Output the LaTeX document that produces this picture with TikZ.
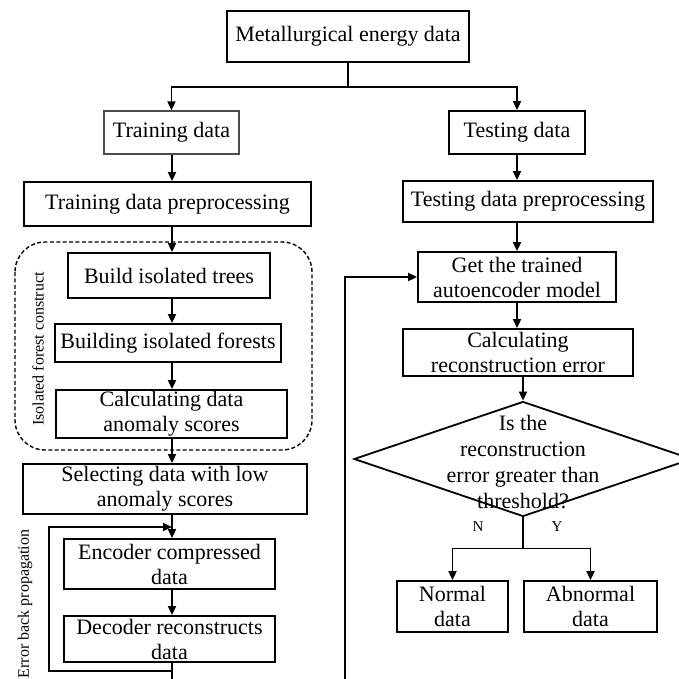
\documentclass[tikz,border=0pt]{standalone}
\usepackage{fontspec}
\setmainfont{Liberation Serif}
\usetikzlibrary{arrows.meta,shapes.geometric}
\tikzset{
  box/.style={draw, line width=0.9pt, align=center, inner sep=0pt,
    font=\fontsize{11}{12.5}\selectfont},
  arr/.style={line width=0.9pt, -{Triangle[length=4.5pt,width=4pt]}},
  ln/.style={line width=0.9pt},
  side/.style={rotate=90, font=\fontsize{8}{9}\selectfont},
}
\begin{document}
\begin{tikzpicture}[x=0.5pt,y=-0.5pt]
  \useasboundingbox (0,0) rectangle (679,679);
  % top
  \node[box, minimum width=121pt, minimum height=25.5pt] (meta) at (348,36.5) {Metallurgical energy data};
  % left column
  \node[box, draw=black!70, line width=0.6pt, minimum width=67.5pt, minimum height=21.5pt] (train) at (171.5,132.5) {Training data};
  \node[box, minimum width=143.5pt, minimum height=22pt] (trainpre) at (167.5,204) {Training data preprocessing};
  \node[box, minimum width=101pt, minimum height=22.5pt] (trees) at (169,275.5) {Build isolated trees};
  \node[box, minimum width=113pt, minimum height=19pt] (forests) at (168,343) {Building isolated forests};
  \node[box, minimum width=115.5pt, minimum height=24pt] (scores) at (171.5,414) {Calculating data\\anomaly scores};
  \node[box, minimum width=142pt, minimum height=25pt] (select) at (165,489) {Selecting data with low\\anomaly scores};
  \node[box, minimum width=105.5pt, minimum height=25pt] (enc) at (169.5,564) {Encoder compressed\\data};
  \node[box, minimum width=105.5pt, minimum height=23pt] (dec) at (169.5,639) {Decoder reconstructs\\data};
  \draw[line width=0.7pt, dash pattern=on 2pt off 1.2pt, rounded corners=15pt] (15,242) rectangle (312,450);
  \node[side] (forestlbl) at (38,349) {Isolated forest construct};
  \node[side] (errlbl) at (25,604) {Error back propagation};
  % right column
  \node[box, minimum width=68pt, minimum height=21.5pt] (test) at (517,132.5) {Testing data};
  \node[box, minimum width=125pt, minimum height=20.5pt] (testpre) at (528,201.5) {Testing data preprocessing};
  \node[box, minimum width=99pt, minimum height=25pt] (model) at (517,277) {Get the trained\\autoencoder model};
  \node[box, minimum width=115pt, minimum height=23.5pt] (recon) at (518,352.5) {Calculating\\reconstruction error};
  \node[draw, line width=0.9pt, diamond, inner sep=0pt, minimum width=169pt, minimum height=57.5pt] (cond) at (523,459) {};
  \node[align=center, font=\fontsize{11}{13}\selectfont] (condtxt) at (523,462) {Is the\\reconstruction\\error greater than\\threshold?};
  \node[box, minimum width=55.5pt, minimum height=25.5pt] (normal) at (452.5,606.5) {Normal\\data};
  \node[box, minimum width=66.5pt, minimum height=25.5pt] (abnormal) at (590.5,606.5) {Abnormal\\data};
  \node[font=\fontsize{7.5}{9}\selectfont] (nlbl) at (478,527) {N};
  \node[font=\fontsize{7.5}{9}\selectfont] (ylbl) at (557,527) {Y};
  \coordinate (lc) at (172,0);
  \coordinate (loopl) at (49,671);
  \coordinate (loopt) at (49,527);
  \coordinate (decout) at (172,700);
  \coordinate (back) at (345,700);
  % connectors
  \draw[arr] (meta.south) -- ++(0,24) -| (train.north);
  \draw[arr] (meta.south) -- ++(0,24) -| (test.north);
  \draw[arr] (lc |- train.south) -- (lc |- trainpre.north);
  \draw[arr] (lc |- trainpre.south) -- (lc |- trees.north);
  \draw[arr] (lc |- trees.south) -- (lc |- forests.north);
  \draw[arr] (lc |- forests.south) -- (lc |- scores.north);
  \draw[arr] (lc |- scores.south) -- (lc |- select.north);
  \draw[arr] (lc |- select.south) -- (lc |- enc.north);
  \draw[arr] (lc |- enc.south) -- (lc |- dec.north);
  \draw[ln] (lc |- dec.south) -- (decout);
  \draw[arr] (lc |- loopl) -- (loopl) -- (loopt) -- (lc |- loopt);
  \draw[arr] (test.south) -- (test.south |- testpre.north);
  \draw[arr] (model.north |- testpre.south) -- (model.north);
  \draw[arr] (model.south) -- (model.south |- recon.north);
  \draw[arr] (cond.north |- recon.south) -- (cond.north);
  \draw[arr] (back) |- (model.west);
  \draw[arr] (cond.south) -- ++(0,31) -| (normal.north);
  \draw[arr] (cond.south) -- ++(0,31) -| (abnormal.north);
\end{tikzpicture}
\end{document}
